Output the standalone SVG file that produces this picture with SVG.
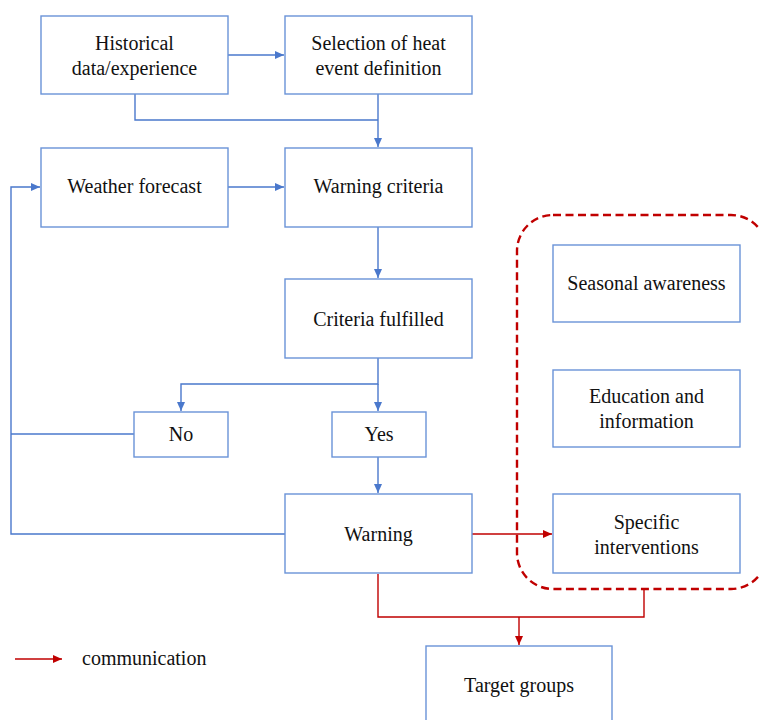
<svg xmlns="http://www.w3.org/2000/svg" width="759" height="720" viewBox="0 0 759 720">
<style>
text{font-family:"Liberation Serif","Times New Roman",Times,serif;font-size:20px;fill:#111}
.c{text-anchor:middle}
.box{fill:#fff;stroke:#6a93d8;stroke-width:1.4}
</style>
<defs>
<marker id="ab" markerWidth="10" markerHeight="10" refX="9" refY="5" orient="auto" markerUnits="userSpaceOnUse"><path d="M0,1 L9,5 L0,9 Z" fill="#4a78cc"/></marker>
<marker id="ar" markerWidth="10" markerHeight="10" refX="9" refY="5" orient="auto" markerUnits="userSpaceOnUse"><path d="M0,1 L9,5 L0,9 Z" fill="#c00000"/></marker>
</defs>
<rect x="517" y="215" width="250" height="374" rx="36" fill="none" stroke="#c00000" stroke-width="2.4" stroke-dasharray="8 4.5"/>
<g id="connectors" fill="none" stroke="#4a78cc" stroke-width="1.4">
<path d="M228,55 H284" marker-end="url(#ab)"/>
<path d="M135,94 V120 H378"/>
<path d="M378,94 V147" marker-end="url(#ab)"/>
<path d="M228,187 H284" marker-end="url(#ab)"/>
<path d="M378,227 V278" marker-end="url(#ab)"/>
<path d="M378,358 V384 H181 V411" marker-end="url(#ab)"/>
<path d="M378,384 V411" marker-end="url(#ab)"/>
<path d="M378,457 V493" marker-end="url(#ab)"/>
<path d="M134,434 H11"/>
<path d="M285,534 H11 V187 H40" marker-end="url(#ab)"/>
<path stroke="#c00000" d="M472,534 H552" marker-end="url(#ar)"/>
<path stroke="#c00000" d="M378,574 V617 H644 V589"/>
<path stroke="#c00000" d="M519,617 V645" marker-end="url(#ar)"/>
<path stroke="#c00000" d="M15,659 H62" marker-end="url(#ar)"/>
</g>
<g id="historical"><rect class="box" x="41" y="16" width="187" height="78"/><text class="c" x="134.5" y="49.5">Historical</text><text class="c" x="134.5" y="74.5">data/experience</text></g>
<g id="selection"><rect class="box" x="285" y="16" width="187" height="78"/><text class="c" x="378.5" y="49.5">Selection of heat</text><text class="c" x="378.5" y="74.5">event definition</text></g>
<g id="weather"><rect class="box" x="41" y="148" width="187" height="79"/><text class="c" x="134.5" y="193">Weather forecast</text></g>
<g id="criteria"><rect class="box" x="285" y="148" width="187" height="79"/><text class="c" x="378.5" y="193">Warning criteria</text></g>
<g id="fulfilled"><rect class="box" x="285" y="279" width="187" height="79"/><text class="c" x="378.5" y="326">Criteria fulfilled</text></g>
<g id="no"><rect class="box" x="134" y="412" width="94" height="45"/><text class="c" x="181" y="441">No</text></g>
<g id="yes"><rect class="box" x="332" y="412" width="94" height="45"/><text class="c" x="379" y="441">Yes</text></g>
<g id="warning"><rect class="box" x="285" y="494" width="187" height="79"/><text class="c" x="378.5" y="541">Warning</text></g>
<g id="seasonal"><rect class="box" x="553" y="245" width="187" height="77"/><text class="c" x="646.5" y="290">Seasonal awareness</text></g>
<g id="education"><rect class="box" x="553" y="370" width="187" height="77"/><text class="c" x="646.5" y="403">Education and</text><text class="c" x="646.5" y="428">information</text></g>
<g id="specific"><rect class="box" x="553" y="494" width="187" height="79"/><text class="c" x="646.5" y="529">Specific</text><text class="c" x="646.5" y="554">interventions</text></g>
<g id="target"><rect class="box" x="426" y="646" width="186" height="90"/><text class="c" x="519" y="692">Target groups</text></g>
<g id="legend"><text x="82" y="665">communication</text></g>
</svg>
